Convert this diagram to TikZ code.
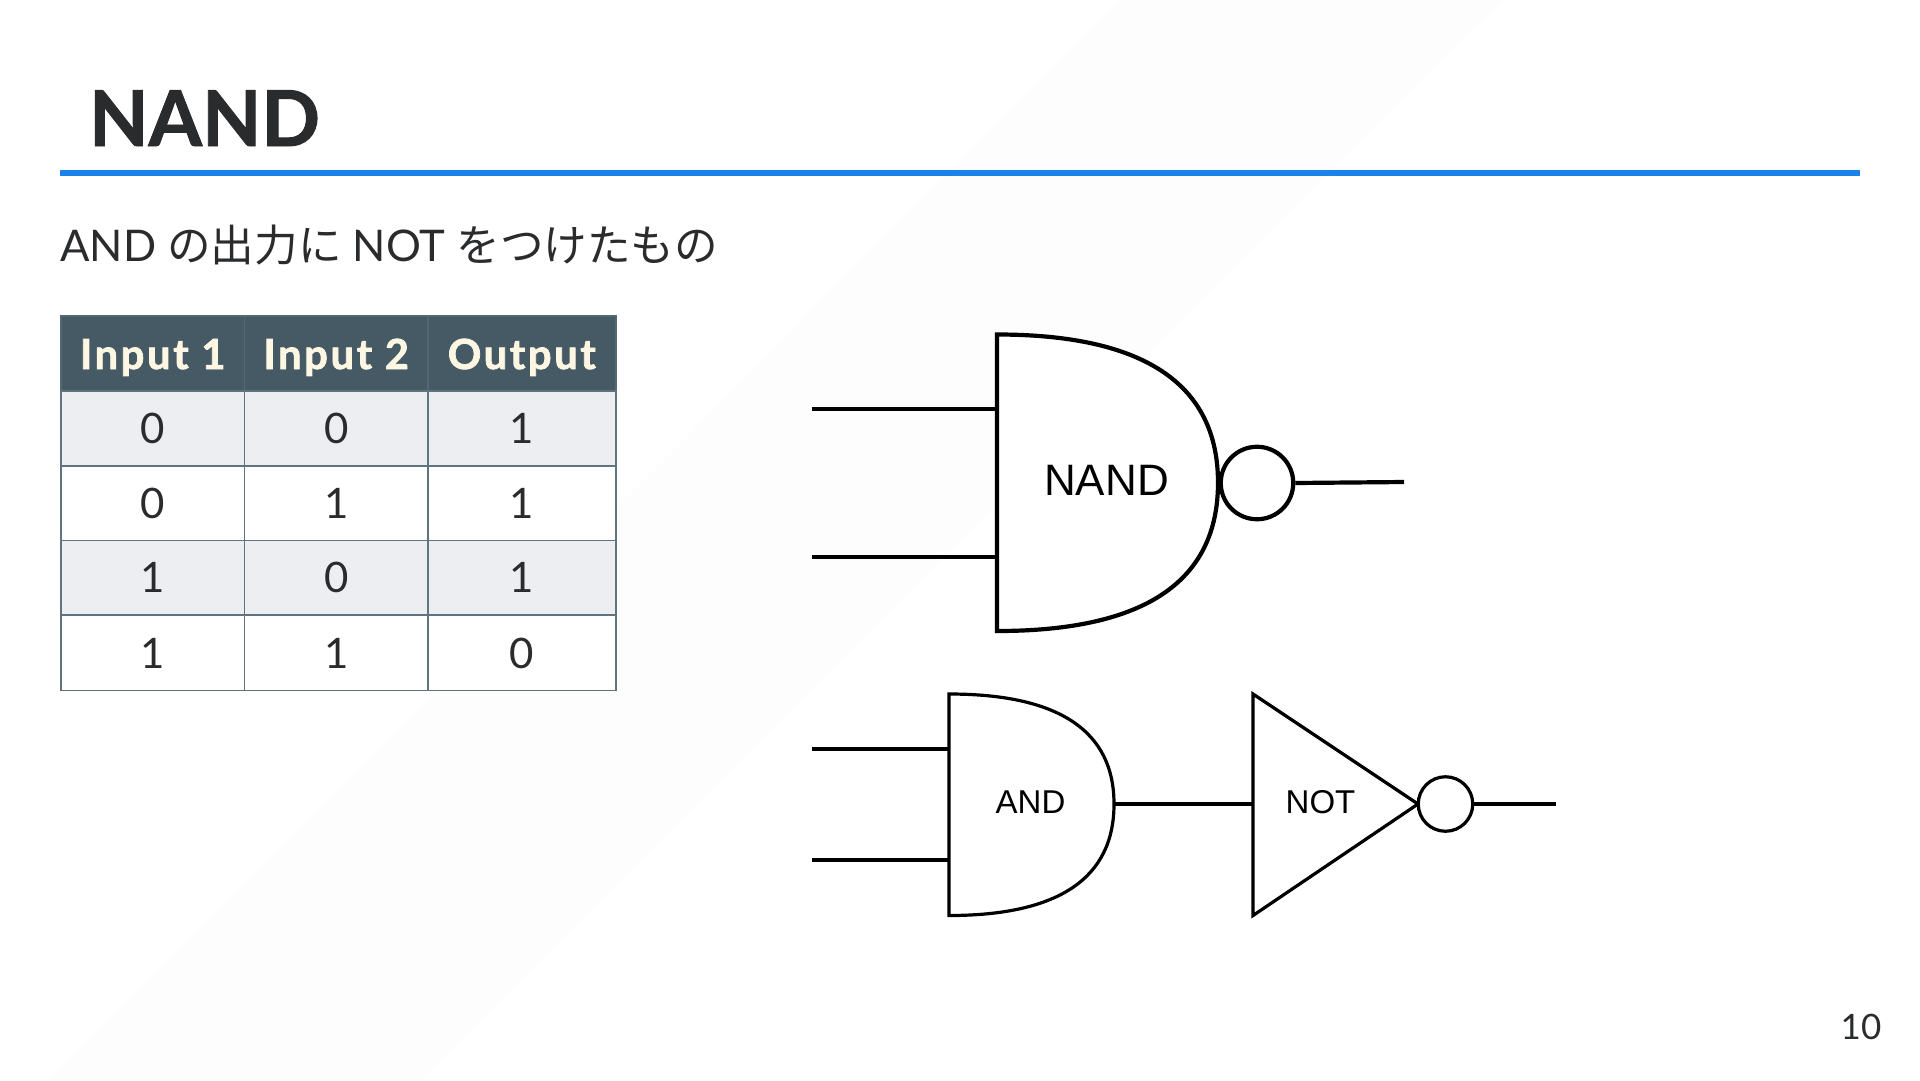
\documentclass[tikz,border=0pt]{standalone}
\usepackage{fontspec}
\setmainfont[BoldFeatures={FakeBold=1.2}]{Lato}
\newfontfamily\cjk{Noto Sans CJK JP}
\newfontfamily\hdrfont[LetterSpace=6.5,BoldFeatures={FakeBold=1.8}]{Lato}
\newfontfamily\gatefont{Liberation Sans}
\definecolor{inkc}{HTML}{2A2B2D}
\definecolor{rulec}{HTML}{1A82E8}
\definecolor{headc}{HTML}{455A64}
\definecolor{creamc}{HTML}{FDF6E3}
\definecolor{zebrac}{HTML}{ECEEF1}
\definecolor{gridc}{HTML}{5F747E}
\definecolor{headgridc}{HTML}{54696F}
\definecolor{bandc}{HTML}{FDFDFD}
\tikzset{
  cellbase/.style={draw=gridc,line width=1.6pt,inner sep=0pt,outer sep=0pt,anchor=center,text=inkc,text height=34pt,text depth=4pt,font=\fontsize{42}{50}\selectfont},
  headcell/.style={cellbase,fill=headc,draw=headgridc,text=creamc,text height=35pt,text depth=4pt,font=\hdrfont\bfseries\fontsize{41.5}{48}\selectfont},
  gatebig/.style={draw=black,line width=4.2pt,fill=white,line join=miter},
  gatesmall/.style={draw=black,line width=3.2pt,fill=white,line join=miter},
  wirebig/.style={draw=black,line width=4.2pt},
  wiresmall/.style={draw=black,line width=3.2pt},
  gatelabel/.style={inner sep=0pt,anchor=base,text=black},
}
\newcommand{\tcell}[7]{\node[#1,minimum width=#4pt,minimum height=#5pt] (#2) at (#6,#7) {#3};}
\newcommand{\hcell}[5]{\node[headcell,minimum width=#3pt,minimum height=75.5pt] (#1) at (#4,#5) {#2};}
\begin{document}
\begin{tikzpicture}[x=1pt,y=-1pt]
\useasboundingbox (0,0) rectangle (1920,1080);
\fill[white] (0,0) rectangle (1920,1080);
\fill[bandc] (1501,0) -- (420,1080) -- (50,1080) -- (1120,0) -- cycle;
% title
\node[anchor=base west,inner sep=0pt,text=inkc,font=\bfseries\fontsize{77}{90}\selectfont] (title) at (89,146) {NAND};
\fill[rulec] (60,169.5) rectangle (1860,175.5);
\node[anchor=base west,inner sep=0pt,text=inkc,font=\fontsize{43.6}{50}\selectfont] (subtitle) at (60,261) {AND {\cjk の出力に} NOT {\cjk をつけたもの}};
% table
\hcell{h1}{Input 1}{183.5}{152.75}{353.5}
\hcell{h2}{Input 2}{183.5}{336.25}{353.5}
\hcell{h3}{Output}{187.7}{521.85}{353.5}
\tcell{cellbase,fill=zebrac}{a1}{0}{183.5}{74.7}{152.75}{428.4}
\tcell{cellbase,fill=zebrac}{a2}{0}{183.5}{74.7}{336.25}{428.4}
\tcell{cellbase,fill=zebrac}{a3}{1}{187.7}{74.7}{521.85}{428.4}
\tcell{cellbase,fill=white}{b1}{0}{183.5}{74.7}{152.75}{503.1}
\tcell{cellbase,fill=white}{b2}{1}{183.5}{74.7}{336.25}{503.1}
\tcell{cellbase,fill=white}{b3}{1}{187.7}{74.7}{521.85}{503.1}
\tcell{cellbase,fill=zebrac}{c1}{1}{183.5}{74.7}{152.75}{577.8}
\tcell{cellbase,fill=zebrac}{c2}{0}{183.5}{74.7}{336.25}{577.8}
\tcell{cellbase,fill=zebrac}{c3}{1}{187.7}{74.7}{521.85}{577.8}
\tcell{cellbase,fill=white}{d1}{1}{183.5}{75.2}{152.75}{653}
\tcell{cellbase,fill=white}{d2}{1}{183.5}{75.2}{336.25}{653}
\tcell{cellbase,fill=white}{d3}{0}{187.7}{75.2}{521.85}{653}
% NAND gate
\coordinate (nandA) at (812,409);
\coordinate (nandB) at (812,557);
\coordinate (nandAp) at (997,409);
\coordinate (nandBp) at (997,557);
\coordinate (nandEnd) at (1404,482);
\draw[gatebig] (997,334.5) .. controls (1144,334.5) and (1218,384) .. (1218,482.7) .. controls (1218,582) and (1144,631) .. (997,631) -- cycle;
\node[circle,draw=black,line width=4.2pt,fill=white,minimum size=72.5pt,inner sep=0pt,outer sep=2pt] (nandBub) at (1257,483) {};
\draw[wirebig] (nandA) -- (nandAp);
\draw[wirebig] (nandB) -- (nandBp);
\draw[wirebig] (nandBub.east) -- (nandEnd);
\node[gatelabel,font=\gatefont\fontsize{44}{50}\selectfont] (nandLabel) at (1106.5,495) {NAND};
% AND gate
\coordinate (andA) at (811.5,749);
\coordinate (andB) at (811.5,860);
\coordinate (andAp) at (949,749);
\coordinate (andBp) at (949,860);
\coordinate (andOut) at (1114,804);
\coordinate (notIn) at (1253,804);
\coordinate (notTip) at (1418,804);
\coordinate (notEnd) at (1556,804);
\draw[gatesmall] (949,694) .. controls (1059,694) and (1114,731) .. (andOut) .. controls (1114,878) and (1059,915.5) .. (949,915.5) -- cycle;
\draw[gatesmall] (1253,694) -- (notTip) -- (1253,915.5) -- cycle;
\node[circle,draw=black,line width=3.2pt,fill=white,minimum size=54.5pt,inner sep=0pt,outer sep=1.6pt] (notBub) at (1445.5,804) {};
\draw[wiresmall] (andA) -- (andAp);
\draw[wiresmall] (andB) -- (andBp);
\draw[wiresmall] (andOut) -- (notIn);
\draw[wiresmall] (notBub.east) -- (notEnd);
\node[gatelabel,font=\gatefont\fontsize{33}{40}\selectfont] (andLabel) at (1030.5,813) {AND};
\node[gatelabel,font=\gatefont\fontsize{33}{40}\selectfont] (notLabel) at (1320.5,813) {NOT};
% page number
\node[anchor=base,inner sep=0pt,text=inkc,font=\fontsize{35}{40}\selectfont] (pageno) at (1861,1039.5) {10};
\end{tikzpicture}
\end{document}
